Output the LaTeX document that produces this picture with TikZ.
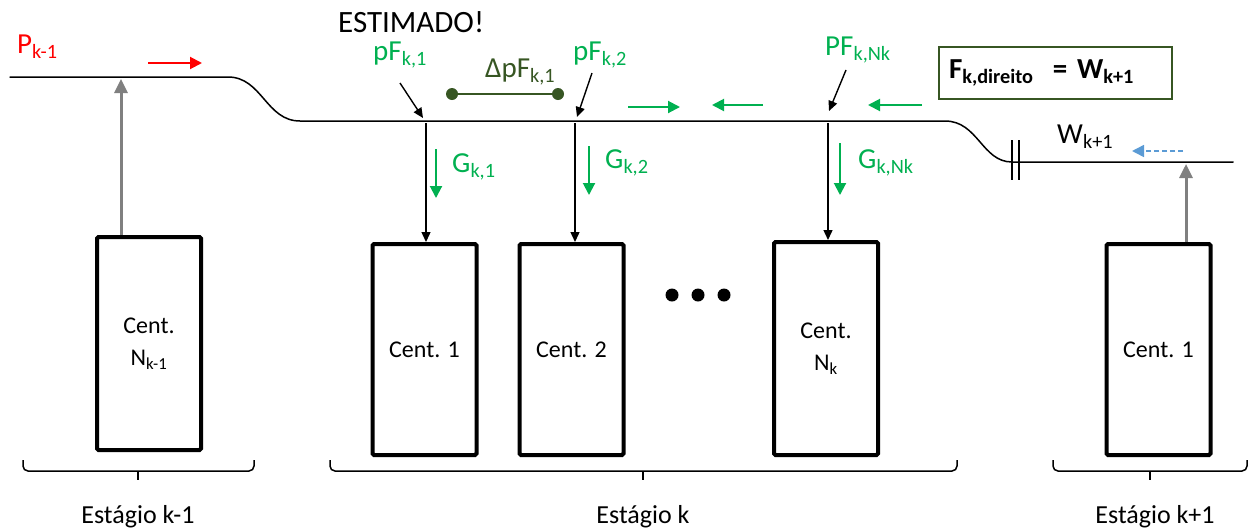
\documentclass[tikz,border=0pt]{standalone}
\usepackage{fontspec}
\setmainfont{Carlito}
\usetikzlibrary{arrows.meta}
\definecolor{xlgreen}{HTML}{00B050}
\definecolor{dkgreen}{HTML}{375623}
\definecolor{xlblue}{HTML}{5B9BD5}
\definecolor{xlgray}{HTML}{808080}
\begin{document}
\begin{tikzpicture}[x=1pt,y=-1pt,
  unit/.style={draw, line width=4pt, rounded corners=1.5pt, minimum width=104pt,
    minimum height=211pt, inner sep=0pt, align=center,
    font=\fontsize{24}{32}\selectfont},
  lbl/.style={anchor=base west, inner sep=0pt, font=\fontsize{29}{33}\selectfont},
  stage/.style={anchor=base, inner sep=0pt, font=\fontsize{26}{30}\selectfont},
  pipe/.style={line width=1.5pt, line cap=round},
  feed/.style={line width=1.4pt, -{Triangle[length=10pt,width=9pt]}},
  gray up/.style={xlgray, line width=3pt, -{Triangle[length=14pt,width=13pt]}},
  flow/.style={line width=2pt, -{Triangle[length=12pt,width=12pt]}},
  bracket/.style={line width=1.5pt, rounded corners=5pt}]
\useasboundingbox (0,0) rectangle (1257,528);

% power plants
\node[unit, minimum height=213pt] (B0) at (149,343.5) {Cent.\\N\textsubscript{k-1}};
\node[unit] (B1) at (424.5,349.5) {Cent. 1};
\node[unit] (B2) at (571.5,349.5) {Cent. 2};
\node[unit, minimum height=213pt] (B3) at (826,348.5) {Cent.\\N\textsubscript{k}};
\node[unit] (B4) at (1158.5,349.5) {Cent. 1};

% busbar profile
\coordinate (L0) at (10,77);
\coordinate (L1) at (228,77);
\coordinate (M0) at (300,121);
\coordinate (M1) at (945,121);
\coordinate (R0) at (1012,162);
\coordinate (R1) at (1233,162);
\draw[pipe] (L0) -- (L1) .. controls (262,77) and (266,121) .. (M0) -- (M1)
  .. controls (978,121) and (982,162) .. (R0) -- (R1);

% section break
\draw[line width=2.5pt] (1012,140) -- (1012,180) (1019,140) -- (1019,180);

% feeders to the plants of stage k
\coordinate (j1) at (426,123);
\coordinate (j2) at (575,123);
\coordinate (j3) at (828,123);
\draw[feed] (j1) -- (j1 |- B1.north);
\draw[feed] (j2) -- (j2 |- B2.north);
\draw[feed] (j3) -- (j3 |- B3.north);

% supply of neighbouring stages
\coordinate (u0) at (121,79);
\coordinate (u4) at (1186,164);
\draw[gray up] (B0.north -| u0) -- (u0);
\draw[gray up] (B4.north -| u4) -- (u4);

% generation arrows
\draw[flow, xlgreen] (436,149) -- (436,198);
\draw[flow, xlgreen] (589,146) -- (589,195);
\draw[flow, xlgreen] (840,143) -- (840,195);

% flow direction arrows along the busbar
\draw[flow, red] (148,63) -- (202,63);
\draw[flow, xlgreen] (628,107) -- (680,107);
\draw[flow, xlgreen] (763,105) -- (712,105);
\draw[flow, xlgreen] (922,105) -- (868,105);
\draw[flow, xlblue, line width=1.5pt, dash pattern=on 5pt off 3pt] (1183,151) -- (1132,151);

% pointers to the pressure points
\coordinate (p1) at (400,83);
\coordinate (p2) at (592,73);
\coordinate (p3) at (846,70);
\draw[feed] (p1) -- (423,118);
\draw[feed] (p2) -- (577,117);
\draw[feed] (p3) -- (829,111);

% pressure difference between the first two points
\coordinate (d1) at (452,94);
\coordinate (d2) at (558,94);
\draw[dkgreen, line width=2pt] (d1) -- (d2);
\fill[dkgreen] (d1) circle (6pt) (d2) circle (6pt);

% ellipsis between plants
\fill (672,295) circle (6.5pt) (698,295) circle (6.5pt) (724,295) circle (6.5pt);

% labels
\node[lbl, red] (tP) at (17,53) {P\textsubscript{k-1}};
\node[lbl, font=\fontsize{31}{35}\selectfont] (tE) at (338,32) {ESTIMADO!};
\node[lbl, xlgreen] (t1) at (373,60) {pF\textsubscript{k,1}};
\node[lbl, xlgreen] (t2) at (573,60) {pF\textsubscript{k,2}};
\node[lbl, xlgreen] (t3) at (825,55) {PF\textsubscript{k,Nk}};
\node[lbl, dkgreen] (tD) at (485,77) {ΔpF\textsubscript{k,1}};
\node[lbl, xlgreen] (g1) at (452,172) {G\textsubscript{k,1}};
\node[lbl, xlgreen] (g2) at (605,168) {G\textsubscript{k,2}};
\node[lbl, xlgreen] (g3) at (858,168) {G\textsubscript{k,Nk}};
\node[lbl] (tW) at (1057,143) {W\textsubscript{k+1}};
\node[draw=dkgreen, line width=1.5pt, minimum width=233pt, minimum height=52pt,
  text width=213pt, align=left, inner sep=0pt,
  font=\fontsize{29}{33}\selectfont\bfseries] (fbox) at (1055.5,73)
  {F\textsubscript{k,direito}\ \ = W\textsubscript{k+1}};

% stage brackets
\draw[bracket] (23,460) -- (23,471) -- (254,471) -- (254,460);
\draw[line width=1.5pt] (138,471) -- (138,480);
\draw[bracket] (330,460) -- (330,471) -- (957,471) -- (957,460);
\draw[line width=1.5pt] (643,471) -- (643,480);
\draw[bracket] (1053,460) -- (1053,471) -- (1247,471) -- (1247,460);
\draw[line width=1.5pt] (1150,471) -- (1150,480);
\node[stage] (s0) at (138,523) {Estágio k-1};
\node[stage] (s1) at (643,523) {Estágio k};
\node[stage] (s2) at (1155,523) {Estágio k+1};
\end{tikzpicture}
\end{document}
